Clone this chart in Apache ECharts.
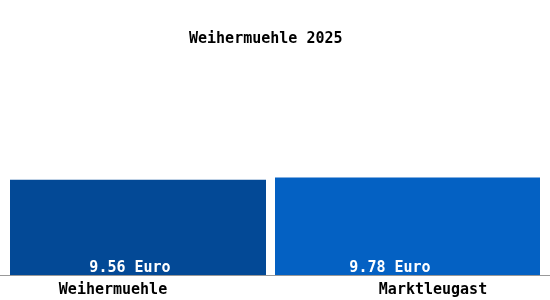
<!DOCTYPE html>
<html>
<head>
<meta charset="utf-8">
<script src="https://cdn.jsdelivr.net/npm/echarts@6/dist/echarts.min.js"></script>
<style>
html,body{margin:0;padding:0;background:#fff;}
#c{width:550px;height:300px;}
</style>
</head>
<body>
<div id="c"></div>
<script>
const titleText = 'Weihermuehle 2025';
const categories = ['Weihermuehle', 'Marktleugast'];
const values = [9.56, 9.78];
const valueUnit = 'Euro';
const barColors = ['#034996', '#0461c3'];

const FONT = 'DejaVu Sans Mono';
const barWidths = [256, 265];
const labelOffsets = [[-8, 2], [-17.5, 2]];
const axisLabelPads = [[0, 59, 0, 0], [0, 0, 0, 51]];

const chart = echarts.init(document.getElementById('c'), null, {renderer: 'canvas'});

const series = values.map((v, i) => ({
  type: 'bar',
  xAxisIndex: 0,
  yAxisIndex: 0,
  barWidth: barWidths[i],
  barGap: '-100%',
  data: values.map((w, j) => j === i ? {
    value: w,
    label: {offset: labelOffsets[i]}
  } : '-'),
  itemStyle: {color: barColors[i]},
  label: {
    show: true,
    position: 'insideBottom',
    distance: 1,
    color: '#fff',
    fontFamily: FONT,
    fontWeight: 'bold',
    fontSize: 15,
    formatter: p => p.value.toFixed(2) + ' ' + valueUnit
  },
  silent: true,
  animation: false
}));

chart.setOption({
  backgroundColor: '#fff',
  animation: false,
  title: {
    text: titleText,
    left: 184,
    top: 27,
    textStyle: {fontFamily: FONT, fontWeight: 'bold', fontSize: 15, color: '#000'}
  },
  grid: [
    {left: 10, right: 10, top: 26, bottom: 25, containLabel: false},
    {left: 0, right: 0, top: 26, bottom: 25, containLabel: false}
  ],
  xAxis: [
    {
      type: 'category',
      gridIndex: 0,
      data: categories.map((c, i) => ({value: c, textStyle: {padding: axisLabelPads[i]}})),
      axisLine: {show: false},
      axisTick: {show: false},
      axisLabel: {
        margin: 8,
        color: '#000',
        fontFamily: FONT,
        fontWeight: 'bold',
        fontSize: 15
      }
    },
    {
      type: 'value',
      gridIndex: 1,
      min: 0, max: 1,
      axisLine: {show: true, onZero: false, lineStyle: {color: '#999', width: 1}},
      axisTick: {show: false},
      axisLabel: {show: false},
      splitLine: {show: false}
    }
  ],
  yAxis: [
    {type: 'value', gridIndex: 0, min: 0, max: 25, show: false},
    {type: 'value', gridIndex: 1, min: 0, max: 1, show: false}
  ],
  series: series
});
</script>
</body>
</html>
